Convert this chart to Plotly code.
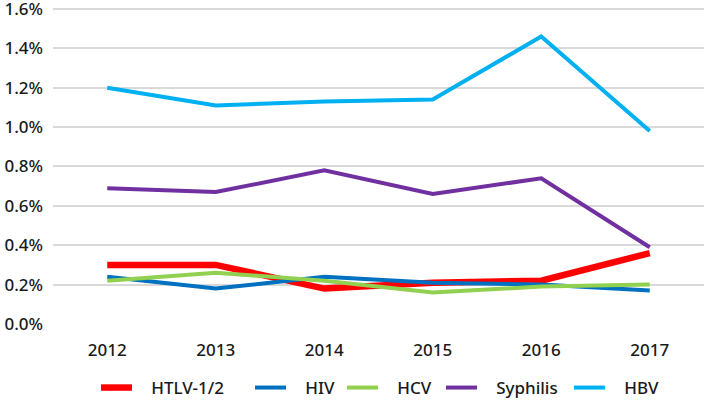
import plotly.graph_objects as go

years = ["2012", "2013", "2014", "2015", "2016", "2017"]
htlv = [0.30, 0.30, 0.18, 0.21, 0.22, 0.36]
hiv = [0.24, 0.18, 0.24, 0.21, 0.20, 0.17]
hcv = [0.22, 0.26, 0.22, 0.16, 0.19, 0.20]
syphilis = [0.69, 0.67, 0.78, 0.66, 0.74, 0.39]
hbv = [1.20, 1.11, 1.13, 1.14, 1.46, 0.98]

series = [
    ("HTLV-1/2", htlv, "#FF0000", 6.5),
    ("HIV", hiv, "#0070C0", 4),
    ("HCV", hcv, "#92D050", 4),
    ("Syphilis", syphilis, "#7030A0", 4),
    ("HBV", hbv, "#00B0F0", 4),
]
# left pixel of each legend entry (layout only)
legend_px = [102, 256, 348, 447, 575]

font = dict(family="Noto Sans, sans-serif", size=17, color="#1a1a1a", weight=500)
L, R, T, B, W, H = 53, 1, 5, 77, 705, 401
pw = W - L - R
ph = H - T - B
PAD = "\u2002\u2004"

fig = go.Figure()
layout_legends = {}
for i, (name, vals, color, w) in enumerate(series):
    key = "legend" if i == 0 else f"legend{i+1}"
    fig.add_trace(go.Scatter(
        x=years, y=vals, name=PAD + name, mode="lines",
        line=dict(color=color, width=w), legend=key,
    ))
    layout_legends[key] = dict(
        orientation="h", x=(legend_px[i] - 6 - L) / pw, xanchor="left",
        y=-64 / ph, yanchor="middle", font=font, itemwidth=31,
        bgcolor="rgba(0,0,0,0)",
    )

fig.update_layout(
    width=W, height=H,
    margin=dict(l=L, r=R, t=T, b=B, autoexpand=False),
    paper_bgcolor="white", plot_bgcolor="white",
    font=font,
    showlegend=True,
    xaxis=dict(type="category", range=[-0.5, 5.5], showgrid=False, showline=False,
               zeroline=False, ticks="", ticklabelstandoff=14, automargin=False),
    yaxis=dict(range=[0, 1.62], tick0=0, dtick=0.2, tickformat=".1f", ticksuffix="%",
               showgrid=True, gridcolor="#D9D9D9", gridwidth=1.5, zeroline=False,
               showline=False, ticks="", ticklabelstandoff=9, automargin=False,
               ticklabeloverflow="allow"),
    **layout_legends,
)
fig.write_html("out.html", config={"displayModeBar": False},
               post_script="document.body.style.margin='0px';")
